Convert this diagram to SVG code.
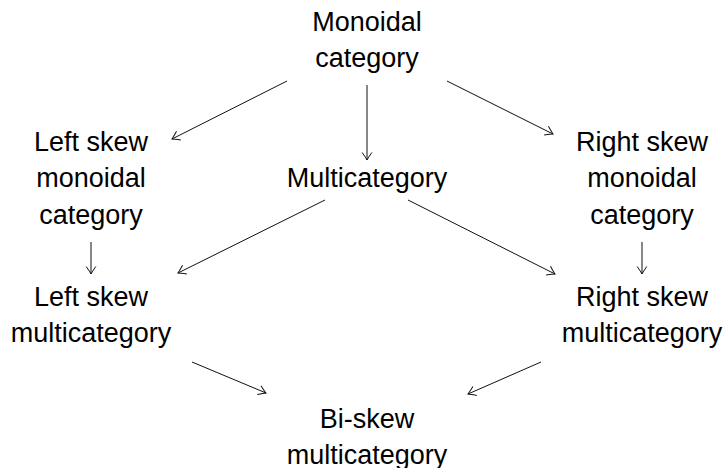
<svg xmlns="http://www.w3.org/2000/svg" width="727" height="468" viewBox="0 0 727 468">
<style>
text{font-family:"Liberation Sans","DejaVu Sans",sans-serif;font-size:27px;fill:#000;text-anchor:middle}
.e{stroke:#111;stroke-width:1;fill:none;marker-end:url(#ah)}
</style>
<defs>
<marker id="ah" markerUnits="userSpaceOnUse" markerWidth="14" markerHeight="14" viewBox="-10 -7 12 14" refX="0" refY="0" orient="auto">
<path d="M-7.5,-4.8 Q-2,-1 0,0 Q-2,1 -7.5,4.8" fill="none" stroke="#111" stroke-width="1"/>
</marker>
</defs>
<g id="connectors">
<line class="e" x1="287" y1="81" x2="172" y2="139"/>
<line class="e" x1="367" y1="85" x2="367" y2="160"/>
<line class="e" x1="447" y1="81" x2="553" y2="134"/>
<line class="e" x1="91" y1="242" x2="91" y2="274"/>
<line class="e" x1="642" y1="242" x2="642" y2="274"/>
<line class="e" x1="325" y1="200" x2="178" y2="273"/>
<line class="e" x1="408" y1="200" x2="555" y2="274"/>
<line class="e" x1="192" y1="362" x2="266" y2="393"/>
<line class="e" x1="541" y1="362" x2="468" y2="394"/>
</g>
<g id="monoidal"><text x="367" y="30.5">Monoidal</text><text x="367" y="67">category</text></g>
<g id="left-skew-monoidal"><text x="91" y="150.5">Left skew</text><text x="91" y="187">monoidal</text><text x="91" y="223.5">category</text></g>
<g id="multicategory"><text x="367" y="187">Multicategory</text></g>
<g id="right-skew-monoidal"><text x="642" y="150.5">Right skew</text><text x="642" y="187">monoidal</text><text x="642" y="223.5">category</text></g>
<g id="left-skew-multi"><text x="91" y="305.5">Left skew</text><text x="91" y="342">multicategory</text></g>
<g id="right-skew-multi"><text x="642" y="305.5">Right skew</text><text x="642" y="342">multicategory</text></g>
<g id="bi-skew"><text x="367" y="427.5">Bi-skew</text><text x="367" y="463.5">multicategory</text></g>
</svg>
